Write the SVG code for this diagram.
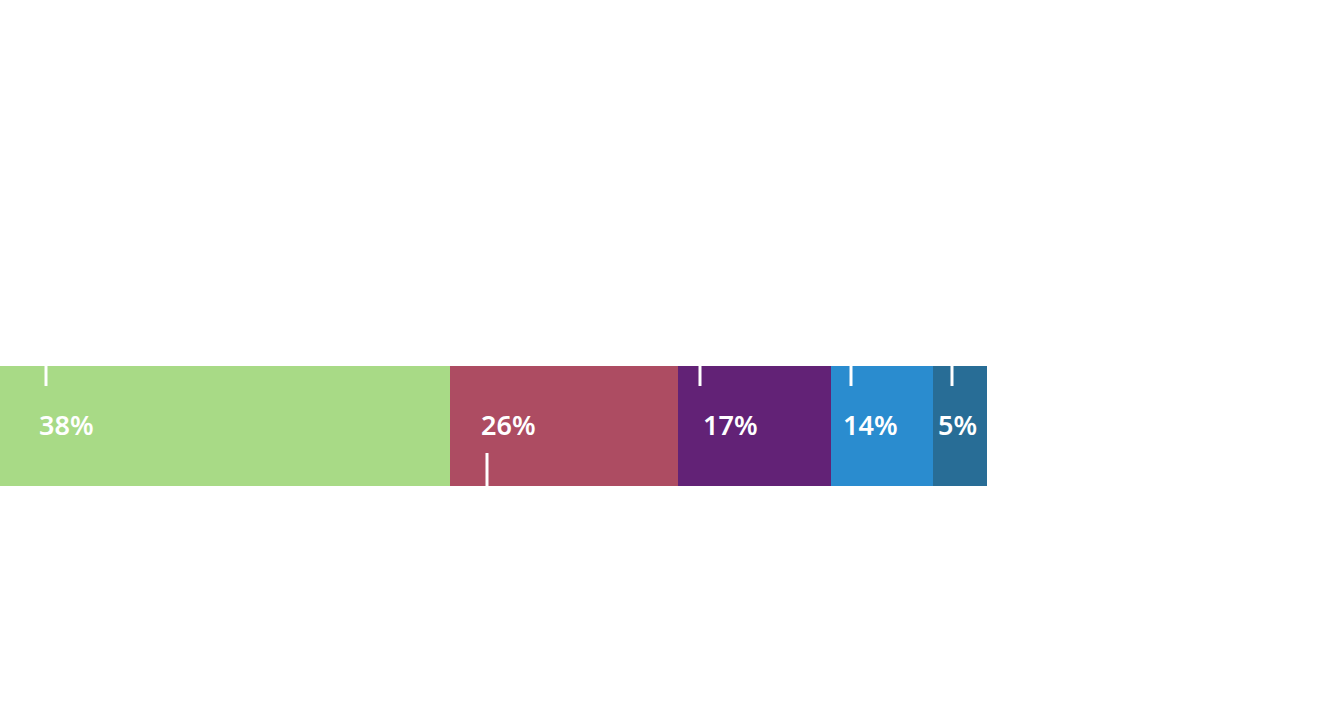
<svg xmlns="http://www.w3.org/2000/svg" width="1332" height="726" viewBox="0 0 1332 726">
<style>
.t{font-family:"Noto Sans","DejaVu Sans",sans-serif;font-size:27px;font-weight:600;fill:#fff}
.k{stroke:#fff;stroke-width:3}
</style>
<rect width="1332" height="726" fill="#fff"/>
<g id="seg1"><rect x="0" y="366" width="450" height="120" fill="#a8da86"/><text class="t" x="39" y="435">38%</text></g>
<g id="seg2"><rect x="450" y="366" width="228" height="120" fill="#ad4c62"/><text class="t" x="481" y="435">26%</text></g>
<g id="seg3"><rect x="678" y="366" width="153" height="120" fill="#622276"/><text class="t" x="703" y="435">17%</text></g>
<g id="seg4"><rect x="831" y="366" width="102" height="120" fill="#2a8ccf"/><text class="t" x="843" y="435">14%</text></g>
<g id="seg5"><rect x="933" y="366" width="54" height="120" fill="#286d96"/><text class="t" x="938" y="435">5%</text></g>
<g id="connectors">
<line class="k" x1="46" y1="366" x2="46" y2="386"/>
<line class="k" x1="487" y1="453" x2="487" y2="486"/>
<line class="k" x1="700" y1="366" x2="700" y2="386"/>
<line class="k" x1="851" y1="366" x2="851" y2="386"/>
<line class="k" x1="952" y1="366" x2="952" y2="386"/>
</g>
</svg>
